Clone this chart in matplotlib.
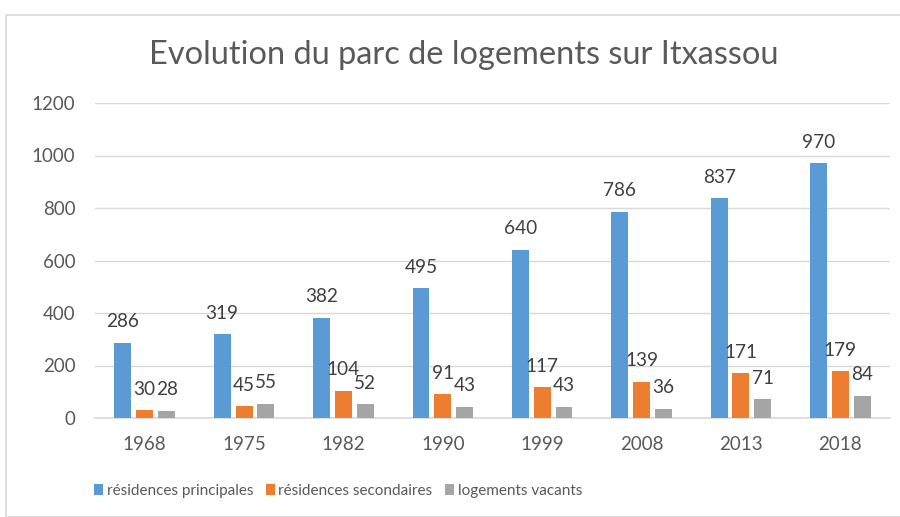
import matplotlib
matplotlib.use("Agg")
import matplotlib.pyplot as plt
import numpy as np
from matplotlib.patches import Rectangle

years = ["1968", "1975", "1982", "1990", "1999", "2008", "2013", "2018"]
principales = [286, 319, 382, 495, 640, 786, 837, 970]
secondaires = [30, 45, 104, 91, 117, 139, 171, 179]
vacants = [28, 55, 52, 43, 43, 36, 71, 84]
series_names = ["résidences principales", "résidences secondaires", "logements vacants"]
colors = ["#5B9BD5", "#ED7D31", "#A5A5A5"]

plt.rcParams['font.family'] = ['Lato', 'DejaVu Sans']
txt = "#595959"

fig = plt.figure(figsize=(9, 5.17), dpi=100)
fig.patches.append(Rectangle((6/900, 0), 1.0, 1 - 15/517, transform=fig.transFigure,
                             fill=False, edgecolor="#D9D9D9", linewidth=1.2))
ax = fig.add_axes([95/900, 1 - 418/517, 795/900, 315/517])

x = np.arange(len(years))
w = 0.17
step = 0.22
for i, (vals, name, c) in enumerate(zip([principales, secondaires, vacants], series_names, colors)):
    pos = x + (i - 1) * step
    ax.bar(pos, vals, width=w, color=c, label=name, zorder=3)
    for p, v in zip(pos, vals):
        ax.annotate(str(v), (p, v), xytext=(0, 9), textcoords="offset points",
                    ha="center", va="bottom", fontsize=13.7, color="#404040")

ax.set_xlim(-0.5, len(years) - 0.5)
ax.set_ylim(0, 1200)
ax.set_yticks(range(0, 1201, 200))
ax.set_xticks(x)
ax.set_xticklabels(years)
ax.tick_params(axis="both", length=0, labelsize=13.5, colors=txt)
ax.tick_params(axis="x", pad=13)
ax.tick_params(axis="y", pad=14)
ax.grid(axis="y", color="#D9D9D9", linewidth=1, zorder=0)
for s in ["top", "right", "left"]:
    ax.spines[s].set_visible(False)
ax.spines["bottom"].set_color("#D9D9D9")
ax.spines["bottom"].set_linewidth(1.2)

fig.text(464/900, 1 - 55/517, "Evolution du parc de logements sur Itxassou",
         ha="center", va="center", fontsize=23.4, color=txt)

fig.legend(loc="center", bbox_to_anchor=(338/900, 1 - 491/517), ncol=3, frameon=False,
           fontsize=11, labelcolor=txt, handlelength=0.6, handleheight=0.7,
           handletextpad=0.25, columnspacing=0.8)

fig.savefig("out.png", dpi=100)
